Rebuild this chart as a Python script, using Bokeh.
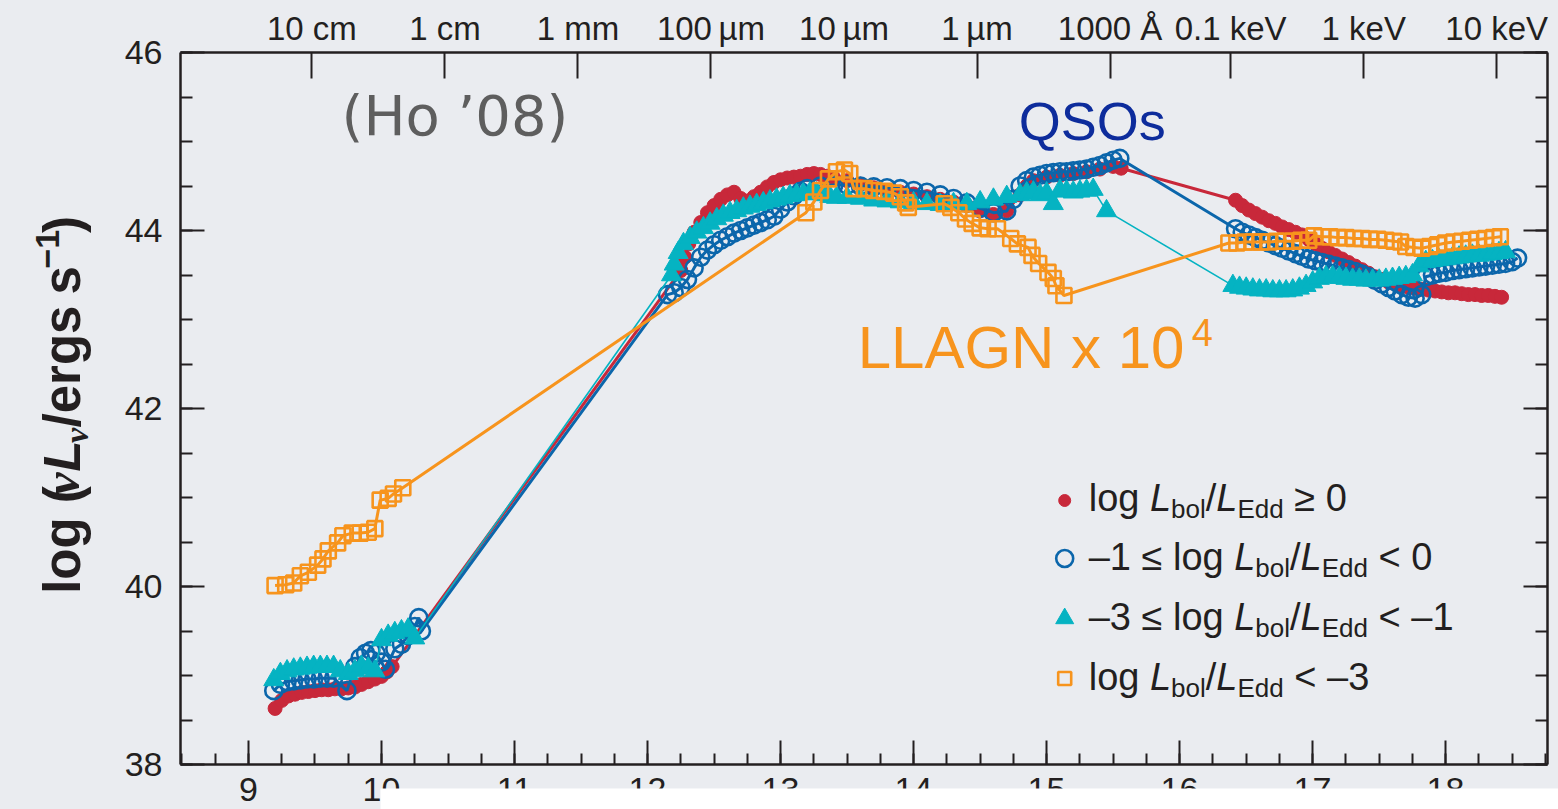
import math
from bokeh.plotting import figure
from bokeh.layouts import column, row
from bokeh.models import Label, LinearAxis, FixedTicker, Range1d
from bokeh.core.properties import value
from bokeh.embed import file_html
from bokeh.resources import INLINE

# ---------------- data: log frequency (Hz) vs log nu L_nu (erg/s) ----------------
red_x = [9.20, 9.25, 9.30, 9.35, 9.40, 9.45, 9.50, 9.55, 9.60, 9.65, 9.70, 9.75, 9.80, 9.85,
         9.90, 9.95, 10.00, 10.04, 10.08,
         12.25, 12.28, 12.31, 12.35, 12.40, 12.45, 12.50, 12.55, 12.60, 12.65, 12.70, 12.75,
         12.80, 12.85, 12.90, 12.95, 13.00, 13.05, 13.10, 13.15, 13.20, 13.25, 13.30, 13.35,
         13.40, 13.50, 13.60, 13.70, 13.80, 13.90, 14.00, 14.10, 14.20, 14.30, 14.40, 14.50,
         14.60, 14.70, 14.80, 14.85, 14.90, 15.00, 15.10, 15.20, 15.30, 15.40, 15.50, 15.56,
         16.42, 16.47, 16.52, 16.57, 16.62, 16.67, 16.72, 16.77, 16.82, 16.87, 16.92, 16.97,
         17.02, 17.07, 17.12, 17.17, 17.22, 17.27, 17.32, 17.37, 17.42, 17.47, 17.52, 17.57,
         17.62, 17.67, 17.72, 17.77, 17.82, 17.87, 17.92, 17.97, 18.02, 18.07, 18.12, 18.17,
         18.22, 18.27, 18.32, 18.37, 18.42]
red_y = [38.63, 38.72, 38.77, 38.79, 38.81, 38.82, 38.83, 38.84, 38.84, 38.85, 38.85, 38.86, 38.87, 38.90,
         38.93, 38.96, 38.99, 39.04, 39.10,
         43.55, 43.70, 43.85, 43.98, 44.09, 44.20, 44.28, 44.35, 44.40, 44.43, 44.36, 44.33,
         44.38, 44.43, 44.49, 44.54, 44.57, 44.59, 44.60, 44.61, 44.63, 44.64, 44.63, 44.61,
         44.59, 44.56, 44.52, 44.48, 44.45, 44.43, 44.41, 44.38, 44.35, 44.32, 44.28, 44.22,
         44.18, 44.22, 44.40, 44.50, 44.56, 44.60, 44.62, 44.64, 44.66, 44.69, 44.72, 44.70,
         44.34, 44.28, 44.23, 44.19, 44.15, 44.11, 44.08, 44.04, 44.01, 43.98, 43.95, 43.90,
         43.85, 43.80, 43.76, 43.72, 43.68, 43.64, 43.60, 43.56, 43.52, 43.48, 43.45, 43.42,
         43.40, 43.38, 43.36, 43.35, 43.34, 43.33, 43.32, 43.31, 43.30, 43.30, 43.29, 43.28,
         43.28, 43.27, 43.27, 43.26, 43.25]

blue_x = [9.19, 9.24, 9.29, 9.34, 9.39, 9.44, 9.49, 9.54, 9.59, 9.64, 9.74, 9.80, 9.84, 9.88,
          9.92, 9.96, 10.00, 10.03, 10.10, 10.15, 10.20, 10.25, 10.28, 10.30,
          12.15, 12.20, 12.25, 12.30, 12.35, 12.40, 12.45, 12.50, 12.55, 12.60, 12.65, 12.70,
          12.75, 12.80, 12.85, 12.90, 12.95, 13.00, 13.05, 13.10, 13.15, 13.20, 13.30, 13.40,
          13.50, 13.60, 13.70, 13.80, 13.90, 14.00, 14.10, 14.20, 14.30, 14.40, 14.50, 14.60,
          14.70, 14.75, 14.80, 14.85, 14.90, 14.95, 15.00, 15.05, 15.10, 15.15, 15.20, 15.25,
          15.30, 15.35, 15.40, 15.45, 15.50, 15.55,
          16.42, 16.47, 16.52, 16.57, 16.62, 16.67, 16.72, 16.77, 16.82, 16.87, 16.92, 16.97,
          17.02, 17.07, 17.12, 17.17, 17.22, 17.27, 17.32, 17.37, 17.42, 17.47, 17.52, 17.57,
          17.62, 17.67, 17.72, 17.77, 17.82, 17.85, 17.90, 17.95, 18.00, 18.05, 18.10, 18.15,
          18.20, 18.25, 18.30, 18.35, 18.40, 18.45, 18.50, 18.54]
blue_y = [38.83, 38.90, 38.93, 38.94, 38.95, 38.96, 38.96, 38.97, 38.97, 38.97, 38.83, 39.10, 39.20, 39.25,
          39.28, 39.25, 39.15, 39.07, 39.30, 39.35, 39.45, 39.55, 39.65, 39.50,
          43.28, 43.30, 43.36, 43.45, 43.58, 43.70, 43.78, 43.84, 43.89, 43.93, 43.97, 44.00,
          44.03, 44.06, 44.09, 44.12, 44.16, 44.24, 44.32, 44.39, 44.44, 44.47, 44.50, 44.51,
          44.51, 44.50, 44.49, 44.48, 44.47, 44.45, 44.43, 44.40, 44.36, 44.31, 44.25, 44.20,
          44.22, 44.35, 44.50, 44.56, 44.60, 44.62, 44.64, 44.65, 44.66, 44.66, 44.67, 44.68,
          44.69, 44.71, 44.73, 44.76, 44.79, 44.81,
          44.02, 43.98, 43.95, 43.92, 43.89, 43.86, 43.83, 43.80, 43.77, 43.74, 43.71, 43.68,
          43.66, 43.64, 43.62, 43.60, 43.58, 43.56, 43.54, 43.51, 43.48, 43.44, 43.40, 43.36,
          43.32, 43.28, 43.25, 43.24, 43.28, 43.48, 43.50, 43.52, 43.53, 43.55, 43.56, 43.57,
          43.58, 43.59, 43.60, 43.61, 43.62, 43.63, 43.65, 43.69]

cyan_x = [9.19, 9.24, 9.29, 9.34, 9.39, 9.44, 9.49, 9.54, 9.59, 9.64, 9.69, 9.75, 9.80, 9.85,
          9.90, 9.95, 10.00, 10.05, 10.10, 10.15, 10.20, 10.25,
          12.18, 12.20, 12.23, 12.27, 12.32, 12.37, 12.42, 12.47, 12.52, 12.57, 12.62, 12.67,
          12.72, 12.77, 12.82, 12.87, 12.92, 12.97, 13.02, 13.07, 13.12, 13.17, 13.22, 13.27,
          13.32, 13.37, 13.42, 13.50, 13.60, 13.70, 13.80, 13.90, 14.00, 14.10, 14.20,
          14.30, 14.40, 14.50, 14.60, 14.70, 14.80, 14.85, 14.90, 14.95, 15.00, 15.05, 15.10,
          15.15, 15.20, 15.25, 15.30, 15.35, 15.45,
          16.40, 16.45, 16.50, 16.55, 16.60, 16.65, 16.70, 16.75, 16.80, 16.85, 16.90, 16.95,
          17.00, 17.05, 17.10, 17.15, 17.20, 17.25, 17.30, 17.35, 17.40, 17.45, 17.50, 17.55,
          17.60, 17.65, 17.70, 17.75, 17.80, 17.85, 17.90, 17.95, 18.00, 18.05, 18.10, 18.15,
          18.20, 18.25, 18.30, 18.35, 18.40, 18.45]
cyan_y = [38.95, 39.02, 39.05, 39.07, 39.08, 39.09, 39.10, 39.10, 39.10, 39.10, 39.05, 39.02, 39.05, 39.10,
          39.08, 39.05, 39.40, 39.45, 39.48, 39.50, 39.52, 39.42,
          43.50, 43.62, 43.75, 43.85, 43.92, 43.98, 44.03, 44.08, 44.13, 44.17, 44.20, 44.22,
          44.25, 44.27, 44.29, 44.31, 44.33, 44.35, 44.37, 44.39, 44.40, 44.41, 44.42, 44.42,
          44.40, 44.38, 44.37, 44.37, 44.36, 44.34, 44.33, 44.32, 44.31, 44.30, 44.29,
          44.30, 44.30, 44.32, 44.35, 44.38, 44.40, 44.42, 44.43, 44.40, 44.42, 44.30, 44.45,
          44.44, 44.43, 44.44, 44.45, 44.46, 44.22,
          43.38, 43.36, 43.35, 43.34, 43.33, 43.33, 43.32, 43.32, 43.32, 43.33, 43.35, 43.38,
          43.42, 43.46, 43.48, 43.48, 43.47, 43.46, 43.45, 43.45, 43.44, 43.44, 43.44, 43.45,
          43.46, 43.47, 43.48, 43.50, 43.60, 43.65, 43.66, 43.67, 43.68, 43.69, 43.70, 43.71,
          43.72, 43.72, 43.73, 43.74, 43.75, 43.76]

orange_x = [9.20, 9.28, 9.34, 9.39, 9.45, 9.52, 9.56, 9.60, 9.67, 9.71, 9.78, 9.84, 9.90, 9.95,
            9.99, 10.05, 10.09, 10.16,
            13.19, 13.25, 13.30, 13.36, 13.42, 13.48, 13.52, 13.55, 13.63, 13.70, 13.78, 13.85,
            13.90, 13.94, 13.96,
            14.23, 14.28, 14.34, 14.39, 14.44, 14.50, 14.56, 14.63, 14.73, 14.78, 14.86, 14.89,
            14.94, 15.01, 15.05, 15.07, 15.13,
            16.37, 16.43, 16.49, 16.55, 16.61, 16.67, 16.73, 16.79, 16.85, 16.91, 16.97, 17.01,
            17.07, 17.13, 17.19, 17.25, 17.31, 17.37, 17.43, 17.49, 17.55, 17.61, 17.66, 17.70,
            17.76, 17.82, 17.88, 17.94, 18.00, 18.06, 18.12, 18.18, 18.24, 18.30, 18.36, 18.41]
orange_y = [40.01, 40.02, 40.04, 40.12, 40.16, 40.24, 40.31, 40.40, 40.49, 40.57, 40.60, 40.60, 40.61, 40.65,
            40.97, 40.99, 41.04, 41.11,
            44.20, 44.32, 44.45, 44.58, 44.66, 44.68, 44.64, 44.47, 44.47, 44.45, 44.44, 44.42,
            44.38, 44.31, 44.26,
            44.30, 44.26, 44.20, 44.13, 44.08, 44.03, 44.02, 44.02, 43.91, 43.85, 43.81, 43.72,
            43.63, 43.53, 43.46, 43.38, 43.27,
            43.86, 43.86, 43.87, 43.87, 43.87, 43.87, 43.88, 43.88, 43.88, 43.89, 43.89, 43.94,
            43.93, 43.93, 43.92, 43.92, 43.91, 43.91, 43.90, 43.90, 43.89, 43.88, 43.87, 43.82,
            43.81, 43.80, 43.82, 43.84, 43.86, 43.87, 43.88, 43.89, 43.90, 43.91, 43.92, 43.93]

# top axis: wavelengths / photon energies and the corresponding log frequency
C_CM = 2.99792458e10          # speed of light, cm/s
H_ERG = 6.62607015e-27        # Planck constant, erg s
EV_ERG = 1.602176634e-12      # 1 eV in erg
top_wavelength_cm = [10.0, 1.0, 0.1, 0.01, 1e-3, 1e-4, 1e-5]
top_wavelength_labels = ["10 cm", "1 cm", "1 mm", "100\u2009\u00b5m", "10\u2009\u00b5m", "1\u2009\u00b5m", "1000 \u00c5"]
top_energy_ev = [100.0, 1000.0, 10000.0]
top_energy_labels = ["0.1 keV", "1 keV", "10 keV"]

x_ticks = [9, 10, 11, 12, 13, 14, 15, 16, 17, 18]
y_ticks = [38, 40, 42, 44, 46]

# ---------------- styling ----------------
BG = "#eaecf0"
INK = "#231f20"
RED = "#c8283a"
BLUE = "#0b66ab"
CYAN = "#05b3c2"
ORANGE = "#f7941d"
FONT = "Liberation Sans"

XMIN, XMAX = 8.489, 18.765
YMIN, YMAX = 38.0, 46.0
W, H = 1558, 809
TITLE_W = 110                            # strip holding the rotated y title
FL, FR, FT, FB = 180, 1546.7, 52, 764   # frame edges in page pixels
MAIN_H = 776                             # main canvas ends just below the "38" label
BASE_SHIFT = 0.36                        # label baseline correction, in units of font size


def cx(px):
    return XMIN + (px - FL) / (FR - FL) * (XMAX - XMIN)


def cy(py):
    return YMAX - (py - FT) / (FB - FT) * (YMAX - YMIN)


def blank(width, height, xr, yr):
    f = figure(width=width, height=height, x_range=xr, y_range=yr, output_backend="svg",
               toolbar_location=None, min_border=0, background_fill_color=BG,
               border_fill_color=BG, outline_line_color=None)
    f.axis.visible = False
    f.grid.visible = False
    return f


p = figure(width=W - TITLE_W, height=MAIN_H, x_range=Range1d(XMIN, XMAX), y_range=Range1d(YMIN, YMAX),
           output_backend="svg", toolbar_location=None,
           min_border_left=FL - TITLE_W, min_border_right=W - 1547, min_border_top=FT,
           min_border_bottom=MAIN_H - FB,
           background_fill_color=BG, border_fill_color=BG, outline_line_color=None)
p.xgrid.grid_line_color = None
p.ygrid.grid_line_color = None


def style_axis(ax, maj_in, min_in, label_size, standoff):
    ax.axis_line_color = INK
    ax.axis_line_width = 2.5
    ax.major_tick_line_color = INK
    ax.major_tick_line_width = 2
    ax.minor_tick_line_color = INK
    ax.minor_tick_line_width = 2
    ax.major_tick_in = maj_in
    ax.major_tick_out = 0
    ax.minor_tick_in = min_in
    ax.minor_tick_out = 0
    ax.major_label_text_font = FONT
    ax.major_label_text_font_size = label_size
    ax.major_label_text_color = INK
    ax.major_label_standoff = standoff


xtick = FixedTicker(ticks=x_ticks, minor_ticks=[8.5 + 0.25 * k for k in range(42)])
ytick = FixedTicker(ticks=y_ticks, minor_ticks=[38 + 0.5 * k for k in range(17)])

# bottom and right axes carry ticks only (the x numbers are set in the strip below)
p.xaxis.ticker = xtick
style_axis(p.xaxis[0], 24, 11, "8px", 0)
p.xaxis.major_label_overrides = {t: " " for t in x_ticks}
p.yaxis.ticker = ytick
style_axis(p.yaxis[0], 24, 12, "34px", 18)

right = LinearAxis(ticker=ytick, major_label_overrides={t: " " for t in y_ticks})
style_axis(right, 24, 12, "8px", 0)
p.add_layout(right, "right")

top_vals = [math.log10(C_CM / lam) for lam in top_wavelength_cm] + \
           [math.log10(e * EV_ERG / H_ERG) for e in top_energy_ev]
top_text = top_wavelength_labels + top_energy_labels
top = LinearAxis(ticker=FixedTicker(ticks=top_vals, minor_ticks=[]),
                 major_label_overrides={v: t for v, t in zip(top_vals, top_text)})
style_axis(top, 26, 0, "33px", 6)
p.add_layout(top, "above")

# ---------------- series ----------------
p.line(red_x, red_y, line_color=RED, line_width=3)
p.scatter(red_x, red_y, marker="circle", size=14, fill_color=RED, line_color=RED)

p.line(blue_x, blue_y, line_color=BLUE, line_width=3)
p.scatter(blue_x, blue_y, marker="circle", size=17, fill_color=None, line_color=BLUE, line_width=2.6)

p.line(cyan_x, cyan_y, line_color=CYAN, line_width=1.6)
p.scatter(cyan_x, cyan_y, marker="triangle", size=20, fill_color=CYAN, line_color=CYAN)

p.line(orange_x, orange_y, line_color=ORANGE, line_width=3)
p.scatter(orange_x, orange_y, marker="square", size=15, fill_color=None, line_color=ORANGE, line_width=2.6)

# ---------------- annotations ----------------
def put(px, py, text, size, color=INK, font=FONT, style="normal"):
    """Label whose alphabetic baseline sits at page pixel (px, py)."""
    p.add_layout(Label(x=cx(px), y=cy(py - BASE_SHIFT * size), text=text, text_font=font,
                       text_font_size=f"{size}px", text_font_style=style, text_color=color,
                       text_align="left", text_baseline="alphabetic"))


put(341, 135, "(Ho \u201908)", 56, color="#5e5e5e", font="DejaVu Sans")
put(1018, 140, "QSOs", 54, color="#0d2c9c")
put(857, 369, "LLAGN x 10", 60, color=ORANGE)
put(1191, 346, "4", 38, color=ORANGE)

# advance widths (em) for the characters used in the composed labels
ADV = {'l': .222, 'o': .556, 'g': .556, ' ': .278, 'L': .556, 'b': .556, 'E': .667, 'd': .556,
       '/': .278, '\u2265': .549, '\u2264': .549, '<': .584, '0': .556, '1': .556, '3': .556,
       '\u2013': .556}
ADV_B = {'l': .278, 'o': .611, 'g': .611, ' ': .278, '(': .333, ')': .333, '/': .278, 'e': .556,
         'r': .389, 's': .556, '\u2212': .584, '1': .556, 'L': .611, '\u03bd': .5}


def adv(text, size, table):
    return sum(table.get(ch, .556) for ch in text) * size


# legend
legend_rows = [
    ("log", "\u2265 0"),
    ("\u2013" + "1 \u2264 log", "< 0"),
    ("\u2013" + "3 \u2264 log", "< \u2013" + "1"),
    ("log", "< \u2013" + "3"),
]
row_base = [511, 570, 630, 690]
row_mark = [500, 558, 618, 678]
LS, SS = 38, 26
SPACE = ADV[' '] * LS
p.scatter([cx(1064)], [cy(row_mark[0])], marker="circle", size=12, fill_color=RED, line_color=RED)
p.scatter([cx(1064)], [cy(row_mark[1])], marker="circle", size=17, fill_color=None, line_color=BLUE, line_width=2.6)
p.scatter([cx(1064)], [cy(row_mark[2])], marker="triangle", size=18, fill_color=CYAN, line_color=CYAN)
p.scatter([cx(1064)], [cy(row_mark[3])], marker="square", size=13, fill_color=None, line_color=ORANGE, line_width=2.6)
for (head, tail), base in zip(legend_rows, row_base):
    pieces = [(head, "n"), (None, "gap"), ("L", "i"), ("bol", "s"), ("/", "n"), ("L", "i"),
              ("Edd", "s"), (None, "gap"), (tail, "n")]
    xpos = 1088
    for txt, kind in pieces:
        if kind == "gap":
            xpos += SPACE
        elif kind == "s":
            put(xpos, base + 7, txt, SS)
            xpos += adv(txt, SS, ADV)
        else:
            put(xpos, base, txt, LS, style="italic" if kind == "i" else "normal")
            xpos += adv(txt, LS, ADV)

# ---------------- rotated y title (runs upward), in its own strip ----------------
ttl = blank(TITLE_W, MAIN_H, Range1d(0, TITLE_W), Range1d(0, MAIN_H))
YS, YSS = 51, 34
ypos = 590
base_x = 80
ytitle = [("log (", "bold", FONT, YS, 0, 0), ("\u03bd", "bold italic", "Liberation Serif", YS, 0, 0),
          ("L", "bold italic", FONT, YS, 0, 0), ("\u03bd", "bold italic", "Liberation Serif", YSS, 8, 0),
          ("/ergs", "bold", FONT, YS, 0, 0.45), ("s", "bold", FONT, YS, 0, 0),
          ("\u2212" + "1", "bold", FONT, YSS, -21, 0), (")", "bold", FONT, YS, 0, 0)]
for txt, style, font, size, shift, gap in ytitle:
    ttl.text(x=[base_x + shift - BASE_SHIFT * size], y=[MAIN_H - ypos], text=[txt], angle=math.pi / 2,
             text_font=value(font), text_font_size=f"{size}px", text_font_style=style,
             text_color=INK, text_align="left", text_baseline="alphabetic")
    ypos -= adv(txt, size, ADV_B) + gap * size

# ---------------- x tick numbers, partly hidden by a white strip at the lower edge ----------------
strip_h = H - MAIN_H
strip = blank(W, strip_h, Range1d(cx(0), cx(W)), Range1d(0, strip_h))
num_base = 801                          # baseline of the numbers, page pixels
strip.text(x=x_ticks, y=[H - (num_base - BASE_SHIFT * 34)] * len(x_ticks), text=[str(t) for t in x_ticks],
           text_font=value(FONT), text_font_size="34px", text_color=INK,
           text_align="center", text_baseline="alphabetic")
strip.quad(left=[cx(380)], right=[cx(W + 5)], bottom=[-5], top=[H - 788], fill_color="white",
           line_color=None)

bg = {"background-color": BG}
layout = column(row(ttl, p, spacing=0, styles=bg), strip, spacing=0, styles=bg)
open("out.html", "w").write(file_html(layout, INLINE))
